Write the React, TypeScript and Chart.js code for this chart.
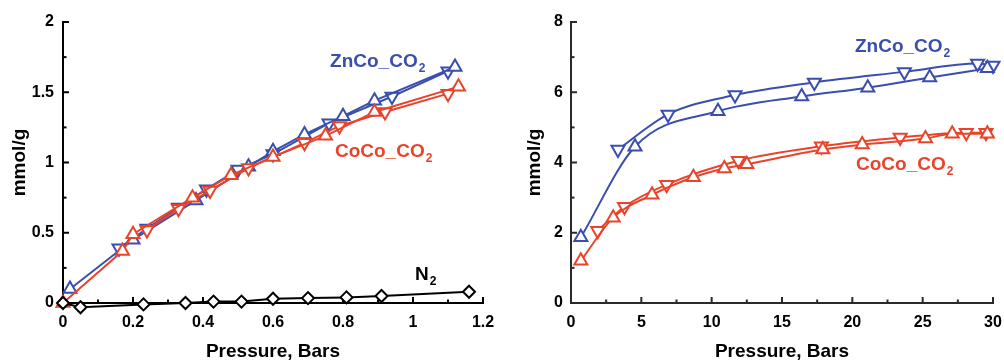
import { useEffect, useRef } from 'react';
import { Chart, registerables } from 'chart.js';

Chart.register(...registerables);

const FONT = '"Liberation Sans", Arial, Helvetica, sans-serif';
const BLUE = '#3a4eae';
const RED = '#e8442b';

// ---------- Left panel: low pressure ----------
const L_X_TICKS = [0, 0.2, 0.4, 0.6, 0.8, 1, 1.2];
const L_Y_TICKS = [0, 0.5, 1, 1.5, 2];

const L_ZN_ADS_X = [0.02, 0.2, 0.38, 0.53, 0.6, 0.69, 0.8, 0.89, 1.12];
const L_ZN_ADS_Y = [0.1, 0.45, 0.73, 0.97, 1.08, 1.2, 1.33, 1.44, 1.68];
const L_ZN_DES_X = [0.16, 0.24, 0.33, 0.41, 0.5, 0.6, 0.76, 0.94, 1.1];
const L_ZN_DES_Y = [0.39, 0.53, 0.68, 0.81, 0.95, 1.06, 1.28, 1.47, 1.65];

const L_CO_ADS_X = [0, 0.17, 0.2, 0.37, 0.48, 0.6, 0.75, 0.89, 1.13];
const L_CO_ADS_Y = [0, 0.37, 0.49, 0.75, 0.91, 1.04, 1.19, 1.36, 1.54];
const L_CO_DES_X = [0.24, 0.33, 0.42, 0.53, 0.69, 0.79, 0.92, 1.1];
const L_CO_DES_Y = [0.52, 0.67, 0.8, 0.96, 1.14, 1.26, 1.36, 1.49];

const L_N2_X = [0, 0.05, 0.23, 0.35, 0.43, 0.51, 0.6, 0.7, 0.81, 0.91, 1.16];
const L_N2_Y = [0, -0.03, -0.01, 0.0, 0.01, 0.01, 0.03, 0.035, 0.04, 0.05, 0.08];

const L_LABEL_TEXT = ['ZnCo_CO', 'CoCo_CO', 'N'];
const L_LABEL_SUB = ['2', '2', '2'];
const L_LABEL_X = [0.763, 0.777, 1.006];
const L_LABEL_Y = [1.68, 1.036, 0.164];

// ---------- Right panel: high pressure ----------
const R_X_TICKS = [0, 5, 10, 15, 20, 25, 30];
const R_Y_TICKS = [0, 2, 4, 6, 8];

const R_ZN_ADS_X = [0.7, 4.55, 10.45, 16.4, 21.1, 25.5, 29.6];
const R_ZN_ADS_Y = [1.87, 4.45, 5.46, 5.88, 6.13, 6.42, 6.68];
const R_ZN_DES_X = [3.34, 6.9, 11.66, 17.3, 23.7, 28.9, 30];
const R_ZN_DES_Y = [4.37, 5.37, 5.92, 6.28, 6.58, 6.82, 6.76];

const R_CO_ADS_X = [0.7, 3.0, 5.76, 8.7, 10.9, 12.5, 17.9, 20.7, 25.2, 27.1, 29.6];
const R_CO_ADS_Y = [1.2, 2.43, 3.08, 3.58, 3.83, 3.95, 4.37, 4.51, 4.68, 4.82, 4.82];
const R_CO_DES_X = [1.9, 3.8, 6.8, 11.9, 17.8, 23.4, 28.1, 29.5];
const R_CO_DES_Y = [2.06, 2.74, 3.37, 4.05, 4.46, 4.71, 4.85, 4.85];

const R_LABEL_TEXT = ['ZnCo_CO', 'CoCo_CO'];
const R_LABEL_SUB = ['2', '2'];
const R_LABEL_X = [20.19, 20.26];
const R_LABEL_Y = [7.14, 3.8];

type Pt = { x: number; y: number };
const pts = (xs: number[], ys: number[]): Pt[] => xs.map((x, i) => ({ x, y: ys[i] }));

function series(xs: number[], ys: number[], color: string, style: string, rotation: number, radius: number, smooth: boolean) {
  return {
    data: pts(xs, ys),
    borderColor: color,
    backgroundColor: '#ffffff',
    borderWidth: 2,
    pointStyle: style,
    pointRotation: rotation,
    pointRadius: radius,
    pointBorderWidth: 2,
    pointBorderColor: color,
    pointBackgroundColor: '#ffffff',
    tension: smooth ? 0.4 : 0,
    cubicInterpolationMode: smooth ? 'monotone' : 'default',
    clip: false,
  };
}

const inwardTicks = {
  id: 'inwardTicks',
  beforeDatasetsDraw(chart: any, _args: any, opts: any) {
    const { ctx, chartArea, scales } = chart;
    const draw = (scale: any, majors: number[], horizontal: boolean) => {
      const vals: { v: number; major: boolean }[] = [];
      majors.forEach((v, i) => {
        vals.push({ v, major: true });
        if (i < majors.length - 1) vals.push({ v: (v + majors[i + 1]) / 2, major: false });
      });
      vals.forEach(({ v, major }) => {
        const len = major ? 6 : 3.5;
        const p = scale.getPixelForValue(v);
        ctx.beginPath();
        if (horizontal) {
          ctx.moveTo(p, chartArea.bottom);
          ctx.lineTo(p, chartArea.bottom - len);
        } else {
          ctx.moveTo(chartArea.left, p);
          ctx.lineTo(chartArea.left + len, p);
        }
        ctx.stroke();
      });
    };
    ctx.save();
    ctx.strokeStyle = opts.color;
    ctx.lineWidth = opts.width;
    draw(scales.x, opts.xTicks, true);
    draw(scales.y, opts.yTicks, false);
    ctx.restore();
  },
};

const seriesLabels = {
  id: 'seriesLabels',
  afterDatasetsDraw(chart: any, _args: any, opts: any) {
    const { ctx, scales } = chart;
    ctx.save();
    ctx.textAlign = 'left';
    ctx.textBaseline = 'alphabetic';
    opts.text.forEach((t: string, i: number) => {
      const px = scales.x.getPixelForValue(opts.x[i]);
      const py = scales.y.getPixelForValue(opts.y[i]);
      ctx.fillStyle = opts.colors[i];
      ctx.font = `bold 19px ${FONT}`;
      ctx.fillText(t, px, py);
      const w = ctx.measureText(t).width;
      ctx.font = `bold 12px ${FONT}`;
      ctx.fillText(opts.sub[i], px + w + 1, py + 5);
    });
    ctx.restore();
  },
};

function makeScales(p: any) {
  const tickFont = { family: FONT, size: 16, weight: 'bold' as const };
  const titleFont = { family: FONT, size: 19, weight: 'bold' as const, lineHeight: 1 };
  return {
    x: {
      type: 'linear',
      min: p.xMin,
      max: p.xMax,
      grid: { display: false, drawTicks: false },
      border: { display: true, color: p.axisColor, width: p.axisWidth },
      afterBuildTicks: (s: any) => {
        s.ticks = p.xTicks.map((v: number) => ({ value: v }));
      },
      ticks: { font: tickFont, color: '#000', padding: 10, maxRotation: 0, autoSkip: false, callback: (v: any) => String(v) },
      title: { display: true, text: 'Pressure, Bars', color: '#000', font: titleFont, padding: { top: 0, bottom: 0 } },
      afterFit: (s: any) => {
        s.height = p.xAxisHeight;
        s.paddingLeft = 0;
        s.paddingRight = 0;
      },
    },
    y: {
      type: 'linear',
      min: p.yMin,
      max: p.yMax,
      grid: { display: false, drawTicks: false },
      border: { display: true, color: p.axisColor, width: p.axisWidth },
      afterBuildTicks: (s: any) => {
        s.ticks = p.yTicks.map((v: number) => ({ value: v }));
      },
      ticks: { font: tickFont, color: '#000', padding: p.yTickPad, autoSkip: false, callback: (v: any) => String(v) },
      title: { display: true, text: 'mmol/g', color: '#000', font: titleFont, padding: { top: p.yTitlePad, bottom: 0 } },
      afterFit: (s: any) => {
        s.width = p.yAxisWidth;
        s.paddingTop = 0;
        s.paddingBottom = 0;
      },
    },
  };
}

function baseOptions(p: any) {
  return {
    responsive: false,
    animation: false,
    devicePixelRatio: 1,
    events: [],
    layout: { padding: { left: 0, right: p.padRight, top: p.padTop, bottom: 0 } },
    plugins: {
      legend: { display: false },
      tooltip: { enabled: false },
      inwardTicks: { color: p.axisColor, width: p.axisWidth, xTicks: p.xTicks, yTicks: p.yTicks },
      seriesLabels: p.labels,
    },
    scales: makeScales(p),
  };
}

function leftConfig(): any {
  return {
    type: 'line',
    data: {
      datasets: [
        series(L_N2_X, L_N2_Y, '#000000', 'rectRot', 0, 6, false),
        series(L_CO_ADS_X, L_CO_ADS_Y, RED, 'triangle', 0, 7.5, false),
        series(L_CO_DES_X, L_CO_DES_Y, RED, 'triangle', 180, 7.5, false),
        series(L_ZN_ADS_X, L_ZN_ADS_Y, BLUE, 'triangle', 0, 7.5, false),
        series(L_ZN_DES_X, L_ZN_DES_Y, BLUE, 'triangle', 180, 7.5, false),
      ],
    },
    options: baseOptions({
      xMin: 0, xMax: 1.2, yMin: 0, yMax: 2,
      xTicks: L_X_TICKS, yTicks: L_Y_TICKS,
      axisColor: '#000000', axisWidth: 2,
      xAxisHeight: 58, yAxisWidth: 63, yTickPad: 9, yTitlePad: 10.5,
      padRight: 17, padTop: 22,
      labels: { text: L_LABEL_TEXT, sub: L_LABEL_SUB, x: L_LABEL_X, y: L_LABEL_Y, colors: [BLUE, RED, '#000000'] },
    }),
    plugins: [inwardTicks, seriesLabels],
  };
}

function rightConfig(): any {
  return {
    type: 'line',
    data: {
      datasets: [
        series(R_CO_ADS_X, R_CO_ADS_Y, RED, 'triangle', 0, 7.5, true),
        series(R_CO_DES_X, R_CO_DES_Y, RED, 'triangle', 180, 7.5, true),
        series(R_ZN_ADS_X, R_ZN_ADS_Y, BLUE, 'triangle', 0, 7.5, true),
        series(R_ZN_DES_X, R_ZN_DES_Y, BLUE, 'triangle', 180, 7.5, true),
      ],
    },
    options: baseOptions({
      xMin: 0, xMax: 30, yMin: 0, yMax: 8,
      xTicks: R_X_TICKS, yTicks: R_Y_TICKS,
      axisColor: '#2a2a2a', axisWidth: 2,
      xAxisHeight: 58, yAxisWidth: 71, yTickPad: 8, yTitlePad: 25.5,
      padRight: 11, padTop: 22,
      labels: { text: R_LABEL_TEXT, sub: R_LABEL_SUB, x: R_LABEL_X, y: R_LABEL_Y, colors: [BLUE, RED] },
    }),
    plugins: [inwardTicks, seriesLabels],
  };
}

function Panel({ left, width, config }: { left: number; width: number; config: () => any }) {
  const ref = useRef<HTMLCanvasElement | null>(null);
  useEffect(() => {
    if (!ref.current) return;
    const chart = new Chart(ref.current, config());
    return () => chart.destroy();
  }, [config]);
  return (
    <canvas
      ref={ref}
      width={width}
      height={361}
      style={{ position: 'absolute', left, top: 0, width, height: 361, display: 'block' }}
    />
  );
}

export default function App() {
  return (
    <div style={{ position: 'fixed', left: 0, top: 0, width: 1004, height: 361, background: '#ffffff', overflow: 'hidden' }}>
      <Panel left={0} width={500} config={leftConfig} />
      <Panel left={500} width={504} config={rightConfig} />
    </div>
  );
}
